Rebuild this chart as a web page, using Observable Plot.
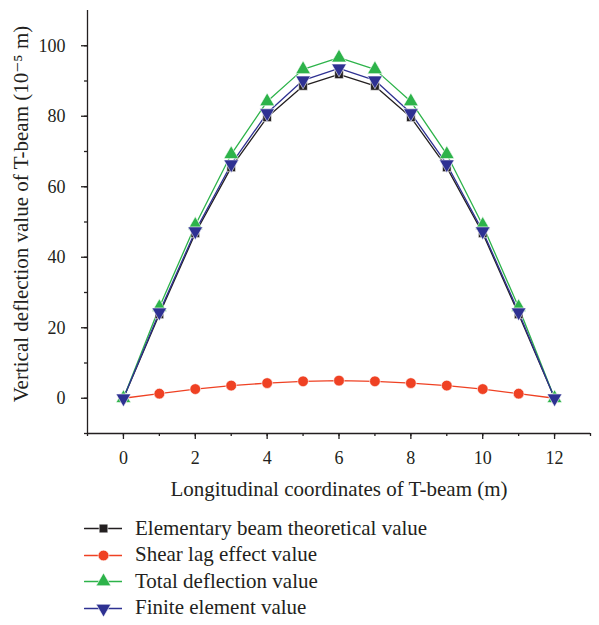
<!DOCTYPE html>
<html>
<head>
<meta charset="utf-8">
<script src="https://cdn.jsdelivr.net/npm/d3@7"></script>
<script src="https://cdn.jsdelivr.net/npm/@observablehq/plot@0.6"></script>
<style>
  body { margin: 0; background: #fff; font-family: "Liberation Serif", "DejaVu Serif", serif; }
  #legend { margin-left: 84px; margin-top: 5px; }
  .row { display: flex; align-items: center; height: 26.5px; font-size: 21px; color: #231f20; }
  .row svg { margin-right: 13px; }
</style>
</head>
<body>
<div id="chart"></div>
<div id="legend"></div>
<script>
const xs = [0,1,2,3,4,5,6,7,8,9,10,11,12];
const elementary = [0,23.8,46.8,65.5,79.7,88.6,91.9,88.6,79.7,65.5,46.8,23.8,0];
const shearLag = [0,1.3,2.6,3.6,4.3,4.8,5.0,4.8,4.3,3.6,2.6,1.3,0];
const total = [0,25.8,49.1,69.2,84.2,93.3,96.6,93.3,84.2,69.2,49.1,25.8,0];
const finiteElement = [0,24.4,47.4,66.4,80.9,90.2,93.6,90.2,80.9,66.4,47.4,24.4,0];
const seriesNames = ["Elementary beam theoretical value","Shear lag effect value","Total deflection value","Finite element value"];
const xLabel = "Longitudinal coordinates of T-beam (m)";
const yLabel = "Vertical deflection value of T-beam (10⁻⁵ m)";
const xMajor = [0,2,4,6,8,10,12];
const xMinor = [-1,0,1,2,3,4,5,6,7,8,9,10,11,12,13];
const yMajor = [0,20,40,60,80,100];
const yMinor = [-10,0,10,20,30,40,50,60,70,80,90,100];

const colors = ["#231f20","#ef4123","#2db34a","#2e3192"];
const symbols = ["square","circle","triangle","triangle"];
const rotates = [0,0,0,180];
const sizes = [75,90,95,95];
const values = [elementary, shearLag, total, finiteElement];

const marks = [
  Plot.ruleX([-1], {stroke: "#231f20", strokeWidth: 1.3}),
  Plot.ruleY([-10], {stroke: "#231f20", strokeWidth: 1.3}),
  Plot.axisX({ticks: xMajor, tickSize: 6, tickPadding: 12, fontSize: 18, label: null, strokeWidth: 1.3}),
  Plot.axisX({ticks: xMinor, tickSize: 3, text: null, label: null, strokeWidth: 1.3}),
  Plot.axisY({ticks: yMajor, tickSize: 6, tickPadding: 16, fontSize: 18, label: null, strokeWidth: 1.3}),
  Plot.axisY({ticks: yMinor, tickSize: 3, text: null, label: null, strokeWidth: 1.3}),
  Plot.text([xLabel], {frameAnchor: "bottom", dy: 56, textAnchor: "middle", lineAnchor: "middle", fontSize: 21, fill: "#231f20"}),
  Plot.text([yLabel], {frameAnchor: "left", dx: -66, dy: -8, rotate: -90, textAnchor: "middle", lineAnchor: "middle", fontSize: 21, fill: "#231f20"})
];
values.forEach((vals, i) => {
  const data = xs.map((x, j) => ({x, y: vals[j], s: seriesNames[i]}));
  marks.push(Plot.line(data, {x: "x", y: "y", stroke: colors[i], strokeWidth: 1.3}));
});
values.forEach((vals, i) => {
  const data = xs.map((x, j) => ({x, y: vals[j], s: seriesNames[i]}));
  marks.push(Plot.dot(data, {x: "x", y: "y", fill: colors[i], stroke: "white", strokeWidth: 0.6, symbol: symbols[i], r: Math.sqrt(sizes[i] / Math.PI), rotate: rotates[i]}));
});

const chart = Plot.plot({
  width: 599,
  height: 510,
  marginLeft: 87,
  marginTop: 10,
  marginRight: 9,
  marginBottom: 77,
  style: {fontFamily: "Liberation Serif, DejaVu Serif, serif", fontSize: "19px", color: "#231f20", background: "white"},
  x: {domain: [-1, 13], label: null},
  y: {domain: [-10, 110], label: null},
  marks
});
document.getElementById("chart").appendChild(chart);

const legend = document.getElementById("legend");
seriesNames.forEach((name, i) => {
  const row = document.createElement("div");
  row.className = "row";
  const sw = Plot.plot({
    width: 38, height: 20, margin: 0,
    x: {domain: [0, 1], axis: null},
    y: {domain: [0, 1], axis: null},
    marks: [
      Plot.line([{x: 0, y: 0.5}, {x: 1, y: 0.5}], {x: "x", y: "y", stroke: colors[i], strokeWidth: 1.3}),
      Plot.dot([{x: 0.5, y: 0.5}], {x: "x", y: "y", fill: colors[i], stroke: "white", strokeWidth: 0.6, symbol: symbols[i], r: Math.sqrt(sizes[i] / Math.PI), rotate: rotates[i]})
    ]
  });
  row.appendChild(sw);
  const t = document.createElement("span");
  t.textContent = name;
  row.appendChild(t);
  legend.appendChild(row);
});
</script>
</body>
</html>
